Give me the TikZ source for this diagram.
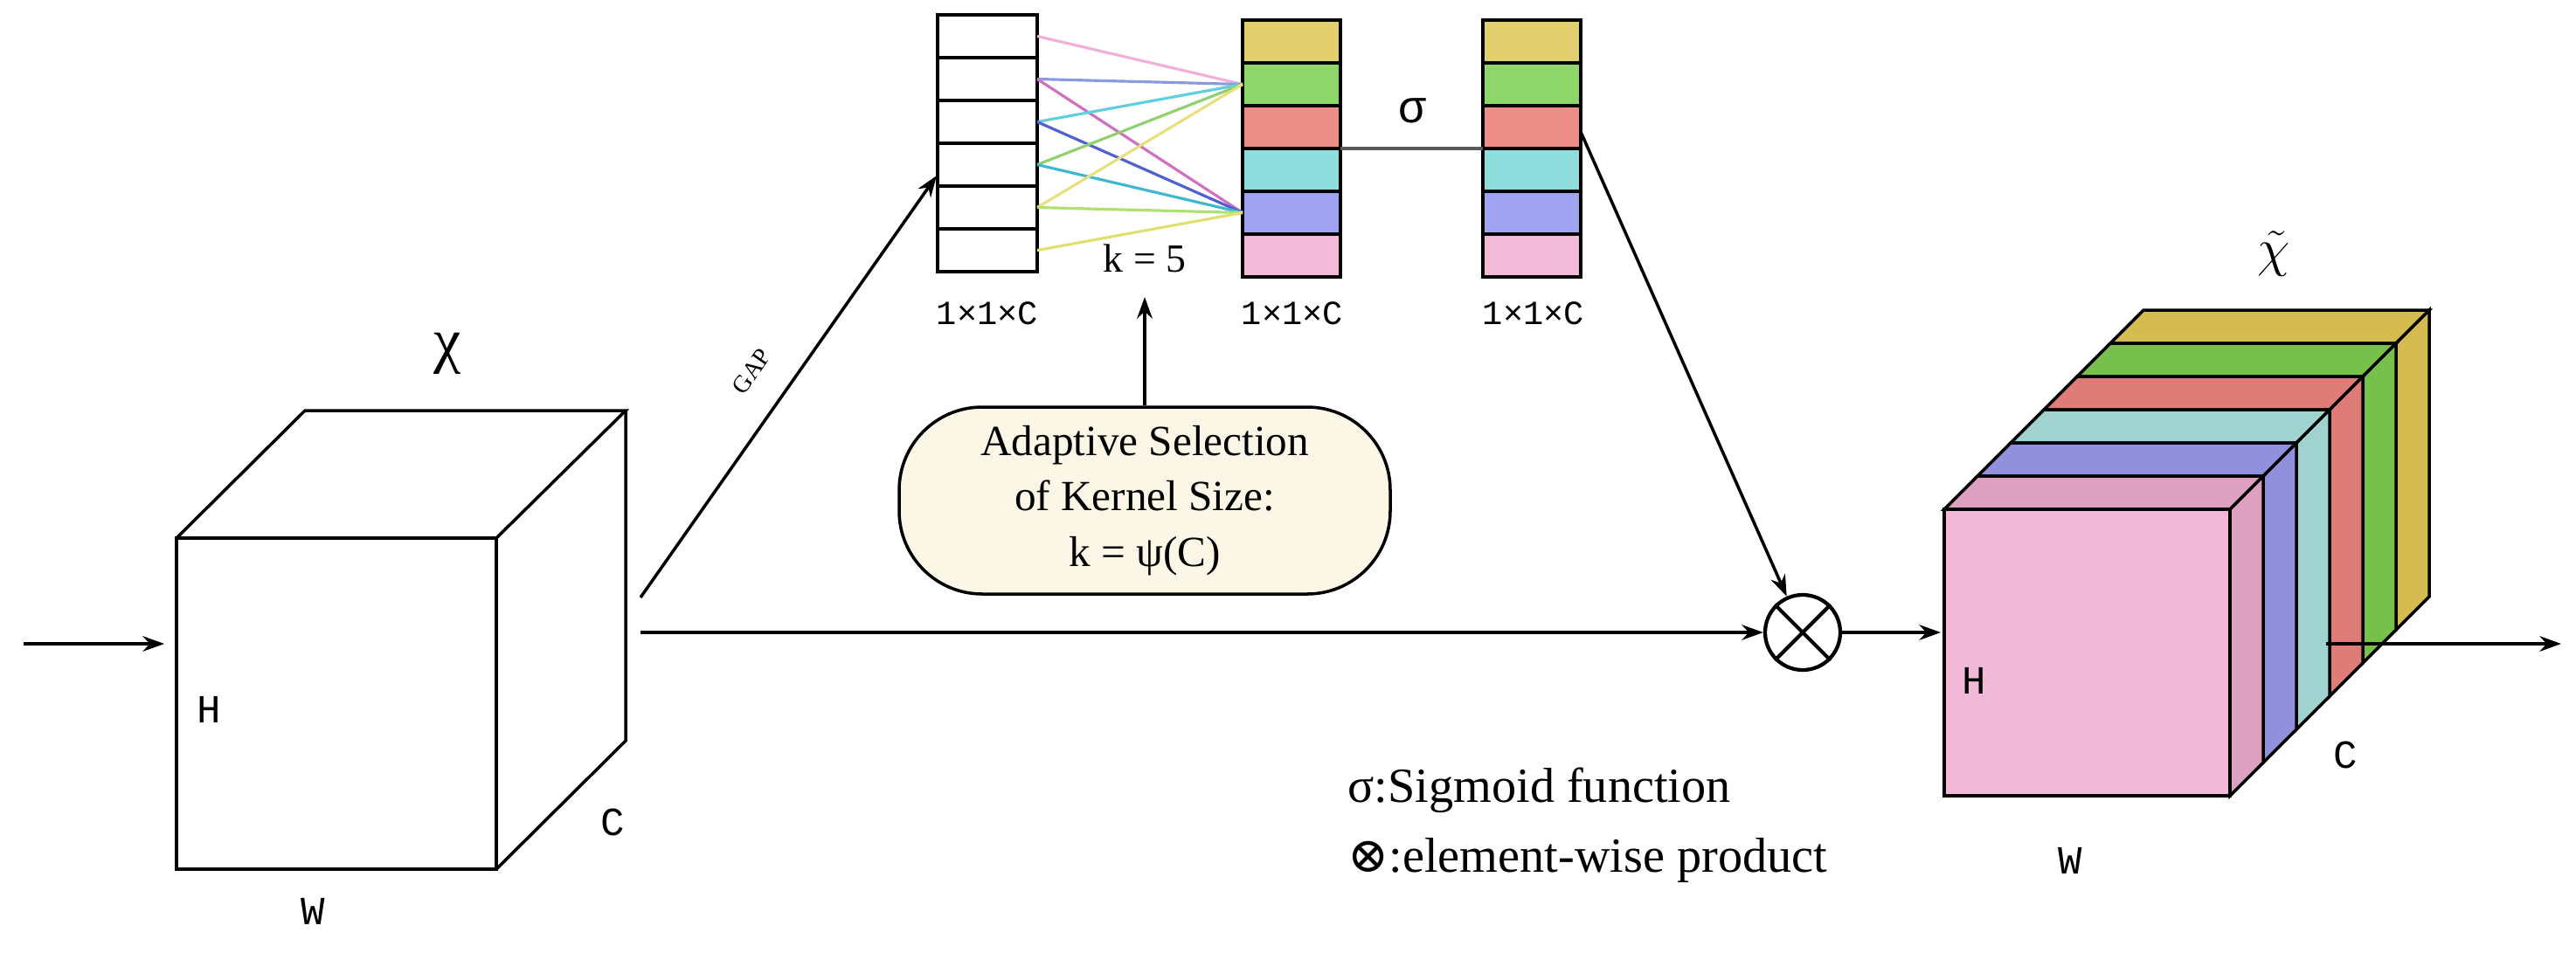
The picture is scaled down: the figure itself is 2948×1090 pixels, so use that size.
\documentclass[tikz,border=0pt]{standalone}
\usepackage{fontspec}
\setmainfont{Liberation Serif}
\newfontfamily\monof{Liberation Mono}
\newfontfamily\sansf{Liberation Sans}
\newfontfamily\djv{DejaVu Serif}
\usetikzlibrary{arrows.meta}
\definecolor{cY}{HTML}{E3CF6E}\definecolor{cG}{HTML}{8ED66A}\definecolor{cR}{HTML}{EE8E88}
\definecolor{cC}{HTML}{8FDDDC}\definecolor{cB}{HTML}{A0A4F0}\definecolor{cP}{HTML}{F2B9D9}
\definecolor{dY}{HTML}{D4BC50}\definecolor{dG}{HTML}{78C04C}\definecolor{dR}{HTML}{E07C78}
\definecolor{dC}{HTML}{A0D2D0}\definecolor{dB}{HTML}{9090DD}\definecolor{dP}{HTML}{DDA0C0}
\definecolor{fP}{HTML}{F2B8D8}\definecolor{cream}{HTML}{FBF6E6}
\begin{document}
\begin{tikzpicture}[x=0.01cm,y=-0.01cm,
  edge/.style={line width=1pt},
  arr/.style={line width=1pt,-{Stealth[length=7pt,width=5pt]}},
  bar/.style={line width=1.3pt},
  dim/.style={font=\monof\fontsize{13pt}{15pt}\selectfont},
  sz/.style={font=\monof\fontsize{11pt}{13pt}\selectfont},
  kline/.style={line width=0.9pt}]
\useasboundingbox (0,0) rectangle (2948,1090);

% ---- left cube
\draw[edge] (202,616) rectangle (568,995);
\draw[edge] (202,616) -- (349,470) -- (716,470) -- (568,616);
\draw[edge] (716,470) -- (716,848) -- (568,995);
\node[dim] (lH) at (239,812) {H};
\node[dim] (lW) at (358,1043) {W};
\node[dim] (lC) at (701,941) {C};
\node[font=\fontsize{20pt}{22pt}\selectfont] (lX) at (512,405) {χ};
\coordinate (inS) at (27,737);
\coordinate (inE) at (188,737);
\draw[arr] (inS) -- (inE);

% ---- left bar
\foreach \i in {0,...,5}{
  \draw[bar] (1073,{17+49*\i}) rectangle (1187,{17+49*(\i+1)});
  \coordinate (L\i) at (1187,{17+49*(\i+0.5)});
}
\coordinate (gapT) at (1072,201);
% ---- middle and right bars
\foreach \c [count=\i from 0] in {cY,cG,cR,cC,cB,cP}{
  \draw[bar,fill=\c] (1422,{23+49*\i}) rectangle (1534,{23+49*(\i+1)});
  \draw[bar,fill=\c] (1697,{23+49*\i}) rectangle (1809,{23+49*(\i+1)});
}
\coordinate (Mg) at (1422,96.5);
\coordinate (Mb) at (1422,243.5);
% kernel lines
\draw[kline,color={rgb,255:red,240;green,176;blue,216}] (L0) -- (Mg);
\draw[kline,color={rgb,255:red,138;green,154;blue,224}] (L1) -- (Mg);
\draw[kline,color={rgb,255:red,208;green,112;blue,192}] (L1) -- (Mb);
\draw[kline,color={rgb,255:red,96;green,208;blue,224}] (L2) -- (Mg);
\draw[kline,color={rgb,255:red,80;green,96;blue,208}] (L2) -- (Mb);
\draw[kline,color={rgb,255:red,144;green,208;blue,112}] (L3) -- (Mg);
\draw[kline,color={rgb,255:red,64;green,184;blue,208}] (L3) -- (Mb);
\draw[kline,color={rgb,255:red,232;green,224;blue,128}] (L4) -- (Mg);
\draw[kline,color={rgb,255:red,176;green,224;blue,112}] (L4) -- (Mb);
\draw[kline,color={rgb,255:red,224;green,224;blue,112}] (L5) -- (Mb);
\node[font=\fontsize{13pt}{15pt}\selectfont] (k5) at (1310,296) {k = 5};

\coordinate (sigS) at (1534,170);
\coordinate (sigE) at (1697,170);
\draw[line width=1pt,gray!70!black] (sigS) -- (sigE);
\node[font=\sansf\fontsize{15pt}{17pt}\selectfont] (sig) at (1617,127) {σ};

\node[sz] (d1) at (1130,359) {1×1×C};
\node[sz] (d2) at (1479,359) {1×1×C};
\node[sz] (d3) at (1755,359) {1×1×C};

% ---- adaptive box
\node[draw,line width=1pt,fill=cream,rounded corners=95*0.01cm,minimum width=562*0.01cm,minimum height=214*0.01cm,
  align=center,font=\fontsize{14pt}{18pt}\selectfont] (asel) at (1310,573)
  {Adaptive Selection\\of Kernel Size:\\k = ψ(C)};
\coordinate (kup) at (1310,340);
\draw[arr] (asel.north) -- (kup);

% ---- GAP
\coordinate (gapS) at (733,684);
\draw[arr] (gapS) -- (gapT);
\node[font=\fontsize{8pt}{9pt}\selectfont,rotate=55] (gap) at (860,425) {GAP};

% ---- product
\node[draw,circle,line width=1.2pt,minimum size=86*0.01cm,inner sep=0pt] (mul) at (2063,724) {};
\draw[line width=1.2pt] (mul.north west) -- (mul.south east) (mul.north east) -- (mul.south west);
\coordinate (hS) at (733,724);
\draw[arr] (hS) -- (mul);
\coordinate (rb) at (1809,151);
\draw[arr] (rb) -- (mul);

% ---- right cube
\foreach \i/\c in {5/dY,4/dG,3/dR,2/dC,1/dB,0/dP}{
  \filldraw[edge,fill=\c] ({2225+38*\i},{583-38*\i}) -- ({2552+38*\i},{583-38*\i}) -- ({2552+38*(\i+1)},{583-38*(\i+1)}) -- ({2225+38*(\i+1)},{583-38*(\i+1)}) -- cycle;
  \filldraw[edge,fill=\c] ({2552+38*\i},{583-38*\i}) -- ({2552+38*(\i+1)},{583-38*(\i+1)}) -- ({2552+38*(\i+1)},{911-38*(\i+1)}) -- ({2552+38*\i},{911-38*\i}) -- cycle;
}
\filldraw[edge,fill=fP] (2225,583) rectangle (2552,911);
\coordinate (cubeF) at (2221,724);
\draw[arr] (mul) -- (cubeF);
\node[dim] (rH) at (2259,779) {H};
\node[dim] (rW) at (2369,985) {W};
\node[dim] (rC) at (2684,864) {C};
\node[font=\fontsize{18pt}{20pt}\selectfont] (rX) at (2602,290) {$\tilde{\chi}$};
\coordinate (oS) at (2662,737);
\coordinate (oE) at (2931,737);
\draw[arr] (oS) -- (oE);

% ---- legend
\node[anchor=west,font=\fontsize{16pt}{18pt}\selectfont] (lg1) at (1530,905) {σ:Sigmoid function};
\node[anchor=west,font=\fontsize{16pt}{18pt}\selectfont] (lg2) at (1530,985) {{\djv ⊗}:element-wise product};
\end{tikzpicture}
\end{document}
